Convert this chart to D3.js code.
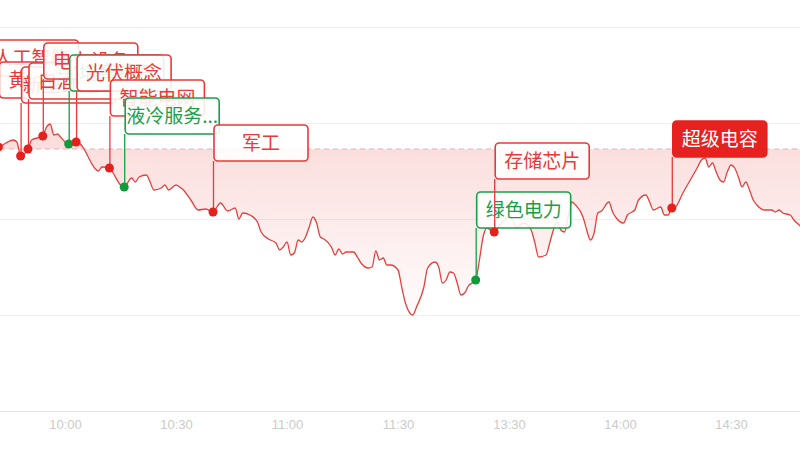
<!DOCTYPE html>
<html>
<head>
<meta charset="utf-8">
<script src="https://cdn.jsdelivr.net/npm/d3@7/dist/d3.min.js"></script>
<style>
  html, body { margin: 0; padding: 0; background: #fff; }
  svg { display: block; }
</style>
</head>
<body>
<svg id="chart" width="800" height="450"></svg>
<script>
// ---------------- DATA ----------------
const times = ["09:35","09:38","09:42","09:44","09:46","09:47","09:48","09:50","09:51","09:54","09:55","09:56","09:57","09:58","09:59","10:01","10:03","10:05","10:06","10:08","10:09","10:10","10:12","10:13","10:15","10:16","10:18","10:19","10:20","10:22","10:23","10:24","10:26","10:27","10:28","10:30","10:31","10:32","10:34","10:36","10:38","10:40","10:42","10:44","10:46","10:47","10:48","10:50","10:52","10:53","10:55","10:57","10:58","10:59","11:00","11:01","11:02","11:03","11:04","11:05","11:06","11:07","11:08","11:09","11:10","11:12","11:13","11:14","11:15","11:16","11:18","11:19","11:20","11:22","11:23","11:24","11:25","11:26","11:27","11:28","11:30","13:01","13:02","13:04","13:05","13:07","13:08","13:10","13:11","13:12","13:13","13:14","13:15","13:16","13:17","13:18","13:19","13:21","13:22","13:23","13:24","13:26","13:28","13:30","13:31","13:32","13:34","13:35","13:36","13:37","13:38","13:40","13:41","13:42","13:43","13:44","13:45","13:46","13:47","13:48","13:50","13:51","13:52","13:53","13:54","13:55","13:57","13:58","13:59","14:01","14:02","14:04","14:05","14:07","14:08","14:09","14:11","14:12","14:13","14:14","14:15","14:17","14:19","14:21","14:22","14:23","14:24","14:25","14:26","14:27","14:28","14:29","14:30","14:31","14:32","14:33","14:34","14:35","14:36","14:37","14:39","14:41","14:42","14:43","14:44","14:46","14:47","14:49","14:51"];
const prices = [3365.5,3366.5,3366,3367,3367.75,3367.25,3363.75,3365.5,3367.75,3368.75,3371,3371.75,3369,3369.25,3368.25,3366.75,3367.25,3365.75,3364,3360.75,3360,3361,3360.75,3359.5,3356.5,3356,3358.25,3357.25,3358.5,3359,3357.25,3355.25,3355.75,3356.5,3355.25,3356.5,3356,3355.25,3352.75,3350.25,3350.5,3349.75,3352,3350,3350.75,3348,3349.5,3349,3347.25,3344.75,3343,3342,3340.25,3341,3342.25,3339,3339.5,3342.75,3342.25,3343.5,3346,3348.5,3347,3343.5,3343,3341,3339,3340.5,3339.25,3339.75,3339.75,3338.5,3337,3335.75,3336,3340,3337.75,3338.25,3336.5,3336.5,3335.25,3331,3327,3324,3326,3331,3335.75,3337.25,3336,3332,3332.75,3334.75,3334.5,3332,3329,3329.5,3331.25,3332.75,3337.75,3343.5,3345.75,3344.75,3347,3348.5,3347.75,3345.75,3347,3346.5,3345.25,3342,3338.5,3339,3342,3345.25,3347.25,3345.25,3344.75,3348.5,3352.25,3351.5,3348.5,3345.25,3342.75,3344.5,3349.5,3350,3352.25,3349.75,3348.25,3347,3349,3350.25,3352.75,3354,3352.25,3350.25,3351,3349,3349,3350.75,3351,3354.5,3357.75,3361,3362.75,3363.25,3361,3362,3359.75,3357.75,3357.25,3359.75,3361.5,3360.75,3358.5,3356,3357.25,3355.25,3352.75,3351.5,3350.25,3350.25,3349.75,3350.25,3349.5,3349,3347.75,3346,3344];
const prevClose = 3365.5;
const yTicks = [3300, 3324, 3348, 3372, 3396];
const tickLabels = ["10:00","10:30","11:00","11:30","13:30","14:00","14:30"];

const eventTimes = ["09:38","09:42","09:48","09:50","09:54","10:01","10:03","10:12","10:16","10:40","13:21","13:26","14:14"];
const eventNames = ["人工智能","黄金概念","新型工业化","白酒概念","电力设备","培育钻石","光伏概念","智能电网","液冷服务器","军工","绿色电力","存储芯片","超级电容"];
const eventKinds = ["up","up","up","up","up","down","up","up","down","up","down","up","up"];
const highlighted = "超级电容";

// ---------------- LAYOUT ----------------
const W = 800, H = 450;
const labelTops = [40, 62, 67, 63, 43, 55, 55, 80, 98, 125, 192, 143, 121];
const boxW = 94, boxH = 36;
const RED = "#e83a36", GREEN = "#18a048", LINE = "#e5403c";

function toIdx(t) {
  const [h, m] = t.split(":").map(Number);
  const mins = h * 60 + m;
  return mins <= 690 ? mins - 570 : mins - 780 + 120;
}

const svg = d3.select("#chart");
const x = d3.scaleLinear().domain([0, 240]).range([-46, 842]);
const y = d3.scaleLinear().domain([3300, 3396]).range([411, 27]);

const data = times.map((t, i) => ({ i: toIdx(t), v: prices[i] }));
const priceAt = {};
times.forEach((t, i) => priceAt[t] = prices[i]);

const defs = svg.append("defs");
const grad = defs.append("linearGradient").attr("id", "fillGrad")
  .attr("gradientUnits", "userSpaceOnUse")
  .attr("x1", 0).attr("x2", 0).attr("y1", 110).attr("y2", 330);
grad.append("stop").attr("offset", "0%").attr("stop-color", "#e83a36").attr("stop-opacity", 0.2);
grad.append("stop").attr("offset", "100%").attr("stop-color", "#e83a36").attr("stop-opacity", 0.0);
defs.append("clipPath").attr("id", "clip").append("rect").attr("x", 0).attr("y", 0).attr("width", W).attr("height", H);

// grid
svg.append("g").selectAll("line").data(yTicks).join("line")
  .attr("x1", 0).attr("x2", W)
  .attr("y1", d => Math.round(y(d)) + 0.5).attr("y2", d => Math.round(y(d)) + 0.5)
  .attr("stroke", d => d === yTicks[0] ? "#e4e4e4" : "#efefef").attr("stroke-width", 1);

const plot = svg.append("g").attr("clip-path", "url(#clip)");

// area between line and previous close
const area = d3.area().x(d => x(d.i)).y0(y(prevClose)).y1(d => y(d.v)).curve(d3.curveMonotoneX);
plot.append("path").datum(data).attr("d", area).attr("fill", "url(#fillGrad)");

// baseline
plot.append("line").attr("x1", 0).attr("x2", W)
  .attr("y1", y(prevClose)).attr("y2", y(prevClose))
  .attr("stroke", "#e2b3b3").attr("stroke-width", 1).attr("stroke-dasharray", "5,4");

// line
const line = d3.line().x(d => x(d.i)).y(d => y(d.v)).curve(d3.curveMonotoneX);
plot.append("path").datum(data).attr("d", line)
  .attr("fill", "none").attr("stroke", LINE).attr("stroke-width", 1.3);

// x axis labels
const xAxis = d3.axisBottom(x)
  .tickValues(tickLabels.map(toIdx))
  .tickFormat((d, i) => tickLabels[i])
  .tickSize(0).tickPadding(9);
const ax = svg.append("g").attr("transform", `translate(0,${Math.round(y(yTicks[0]))})`).call(xAxis);
ax.select(".domain").remove();
ax.selectAll("text").attr("fill", "#cbcbcb").style("font-size", "13px")
  .style("font-family", "'Liberation Sans', Arial, sans-serif");

// events
const events = eventTimes.map((t, k) => ({
  i: toIdx(t), v: priceAt[t], name: eventNames[k], kind: eventKinds[k], top: labelTops[k]
}));
const eg = plot.append("g");
events.forEach(e => {
  const col = e.kind === "up" ? RED : GREEN;
  const px = x(e.i), py = y(e.v);
  const g = eg.append("g");
  const hl = e.name === highlighted;
  g.append("line").attr("x1", px + 0.5).attr("x2", px + 0.5)
    .attr("y1", py).attr("y2", e.top + boxH)
    .attr("stroke", col).attr("stroke-width", 1.3);
  g.append("rect").attr("x", px + 1).attr("y", e.top).attr("width", boxW).attr("height", boxH)
    .attr("rx", 4).attr("ry", 4)
    .attr("fill", hl ? "#e5221f" : "rgba(255,255,255,0.88)")
    .attr("stroke", hl ? "#e5221f" : col).attr("stroke-width", 1.6);
  const label = e.name.length > 4 ? e.name.slice(0, 4) + "..." : e.name;
  g.append("text").attr("x", px + 1 + boxW / 2).attr("y", e.top + boxH / 2 + 7)
    .attr("text-anchor", "middle")
    .attr("fill", hl ? "#fff" : col)
    .style("font-size", "19px")
    .style("font-family", "'Noto Sans CJK SC', 'Noto Sans', sans-serif")
    .text(label);
});
eg.append("g").selectAll("circle").data(events).join("circle")
  .attr("cx", d => x(d.i)).attr("cy", d => y(d.v)).attr("r", 4.5)
  .attr("fill", d => d.kind === "up" ? "#e4211d" : "#0f9a3c");
</script>
</body>
</html>
